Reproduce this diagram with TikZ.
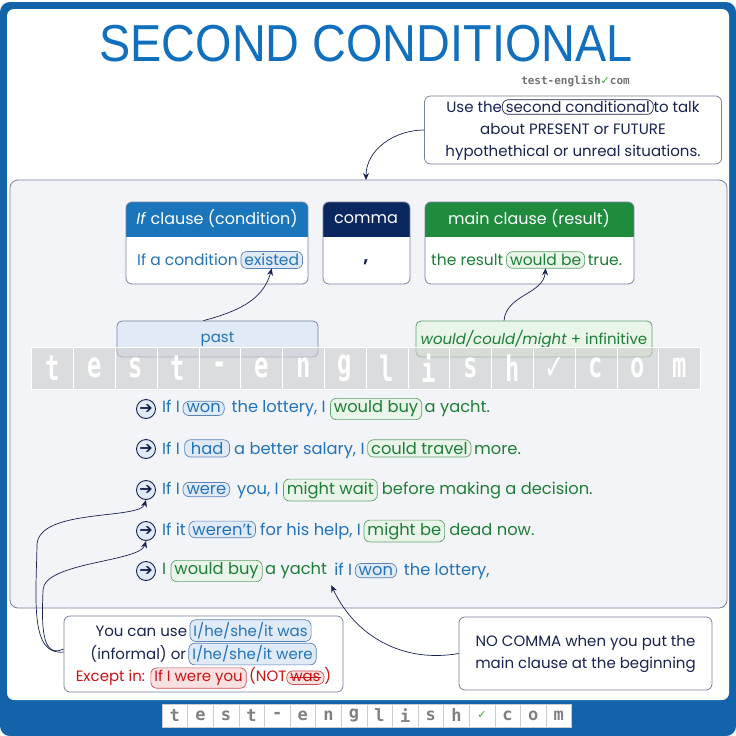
\documentclass[tikz,border=0pt]{standalone}
\usepackage{fontspec}
\setmainfont{Poppins}
\newfontfamily\titlefont{Liberation Sans}
\newfontfamily\symfont{DejaVu Sans}
\newfontfamily\logofont{DejaVu Sans Mono}
\usetikzlibrary{positioning,arrows.meta}
\definecolor{frameBlue}{RGB}{18, 99, 170}
\definecolor{titleBlue}{RGB}{16, 112, 190}
\definecolor{headBlue}{RGB}{27, 117, 187}
\definecolor{headNavy}{RGB}{10, 40, 95}
\definecolor{headGreen}{RGB}{30, 140, 60}
\definecolor{txtBlue}{RGB}{35, 115, 185}
\definecolor{txtGreen}{RGB}{30, 125, 55}
\definecolor{txtRed}{RGB}{200, 20, 20}
\definecolor{txtNavy}{RGB}{25, 35, 80}
\definecolor{edgeGrey}{RGB}{120, 130, 160}
\definecolor{pillBlueFill}{RGB}{225, 235, 248}
\definecolor{pillBlueEdge}{RGB}{90, 130, 180}
\definecolor{pillGreenFill}{RGB}{232, 245, 232}
\definecolor{pillGreenEdge}{RGB}{100, 160, 110}
\definecolor{pillRedFill}{RGB}{250, 225, 225}
\definecolor{pillRedEdge}{RGB}{200, 80, 80}
\definecolor{panelGrey}{RGB}{243, 244, 247}
\definecolor{checkGreen}{RGB}{60, 170, 60}
\tikzset{
  pill/.style={rounded corners=6, inner xsep=3.5, inner ysep=2.5, line width=0.7,
    minimum width=0, minimum height=0, outer sep=0},
  notebox/.style={draw=edgeGrey, fill=white, rounded corners=6, line width=0.8},
  notetxt/.style={align=center, text=txtNavy, font=\fontsize{15}{22}\selectfont},
  sent/.style={anchor=west, inner sep=0, font=\fontsize{16.3}{19}\selectfont},
  headtxt/.style={text=white, font=\fontsize{16}{18}\selectfont},
  bullet/.style={circle, draw=txtNavy, fill=pillBlueFill, line width=0.9,
    minimum size=19, inner sep=0, text=txtNavy, font=\symfont\fontsize{16}{16}\selectfont},
  arr/.style={-{Stealth[length=7,width=6]}, txtNavy, line width=0.7},
  wmcell/.style={minimum width=41.8, minimum height=42, inner sep=0, draw=white,
    fill=black!20, fill opacity=0.6, text opacity=1, text=white,
    font=\logofont\bfseries\fontsize{28}{28}\selectfont},
  logocell/.style={minimum width=25.6, minimum height=23, inner sep=0, draw=black!20,
    fill=white, text=black!50, font=\logofont\bfseries\fontsize{17}{17}\selectfont}
}
\newcommand{\pillB}[1]{\tikz[baseline=(pb.base)]\node[pill,draw=pillBlueEdge,fill=pillBlueFill,text=txtBlue](pb){#1};}
\newcommand{\pillG}[1]{\tikz[baseline=(pg.base)]\node[pill,draw=pillGreenEdge,fill=pillGreenFill,text=txtGreen](pg){#1};}
\newcommand{\pillR}[1]{\tikz[baseline=(pr.base)]\node[pill,draw=pillRedEdge,fill=pillRedFill,text=txtRed](pr){#1};}
\newcommand{\pillRX}[1]{\tikz[baseline=(px.base)]{\node[pill,draw=pillRedEdge,fill=pillRedFill,text=txtRed](px){#1};
  \draw[txtRed, line width=0.9] ([xshift=3]px.west) -- ([xshift=-3]px.east);}}
\newcommand{\pillN}[1]{\tikz[baseline=(pn.base)]\node[pill,inner ysep=1.5,draw=txtNavy,fill=white,text=txtNavy](pn){#1};}

\begin{document}
\begin{tikzpicture}[x=1pt, y=-1pt]
  \useasboundingbox (0,0) rectangle (736,736);
  % frame and bottom band
  \fill[frameBlue, rounded corners=10] (0,2) rectangle (736,736);
  \fill[white, rounded corners=7] (7,9) rectangle (729,700);

  % title
  \node[anchor=base, inner sep=0, text depth=0pt, font=\titlefont\fontsize{52}{52}\selectfont, text=titleBlue] (title) at (366,61)
    {\scalebox{0.9}[1]{SECOND CONDITIONAL}};
  \node[anchor=east, inner sep=0, font=\logofont\bfseries\fontsize{11}{11}\selectfont, text=black!55] (smalllogo) at (630,81)
    {test-english{\symfont\color{checkGreen}✓}com};

  % top note
  \node[notebox, minimum width=297, minimum height=68] (usenote) at (573,130) {};
  \node[notetxt] (usetxt) at (usenote) {Use the\pillN{second conditional}to talk\\
    about PRESENT or FUTURE\\ hypothethical or unreal situations.};

  % main panel
  \draw[edgeGrey, fill=panelGrey, rounded corners=8, line width=0.8] (10,180) rectangle (727,608);
  \coordinate (paneltop) at (366,180);
  \draw[arr] (usenote.west) to[out=180, in=90] (paneltop);

  % clause boxes
  \begin{scope}
    \clip[rounded corners=6] (126,202) rectangle (308,284);
    \fill[white] (126,202) rectangle (308,284);
    \fill[headBlue] (126,202) rectangle (308,237);
  \end{scope}
  \draw[edgeGrey, rounded corners=6, line width=0.8] (126,202) rectangle (308,284);
  \begin{scope}
    \clip[rounded corners=6] (323,202) rectangle (410,284);
    \fill[white] (323,202) rectangle (410,284);
    \fill[headNavy] (323,202) rectangle (410,237);
  \end{scope}
  \draw[edgeGrey, rounded corners=6, line width=0.8] (323,202) rectangle (410,284);
  \begin{scope}
    \clip[rounded corners=6] (425,202) rectangle (634,284);
    \fill[white] (425,202) rectangle (634,284);
    \fill[headGreen] (425,202) rectangle (634,237);
  \end{scope}
  \draw[edgeGrey, rounded corners=6, line width=0.8] (425,202) rectangle (634,284);

  \node[headtxt] (ifhead) at (217,219) {\textit{If} clause (condition)};
  \node[headtxt] (commahead) at (366,219) {comma};
  \node[headtxt] (mainhead) at (529,219) {main clause (result)};

  \node[sent, font=\fontsize{15.5}{18}\selectfont, text=txtBlue] (ifbody) at (137,260) {If a condition};
  \node[sent, pill, font=\fontsize{15.5}{18}\selectfont, draw=pillBlueEdge, fill=pillBlueFill, text=txtBlue, right=3 of ifbody] (existed) {existed};
  \node[font=\fontsize{18}{18}\selectfont\bfseries, text=txtNavy] (commabody) at (366,262) {,};
  \node[sent, font=\fontsize{15.5}{18}\selectfont, text=txtGreen] (mainbody) at (431,260) {the result};
  \node[sent, pill, font=\fontsize{15.5}{18}\selectfont, draw=pillGreenEdge, fill=pillGreenFill, text=txtGreen, right=3 of mainbody] (wouldbe) {would be};
  \node[sent, font=\fontsize{15.5}{18}\selectfont, text=txtGreen, right=3 of wouldbe] (truebody) {true.};

  % form boxes
  \node[notebox, fill=pillBlueFill, minimum width=201, minimum height=36, rounded corners=5,
    text=txtBlue, font=\fontsize{15}{18}\selectfont] (past) at (217.5,339) {past};
  \node[notebox, draw=pillGreenEdge, fill=pillGreenFill, minimum width=236, minimum height=36, rounded corners=5,
    text=txtGreen, font=\fontsize{15}{18}\selectfont] (modal) at (534,339) {\textit{would/could/might} + infinitive};
  \draw[arr] ([xshift=-14]past.north) to[out=15, in=-105] (existed.south);
  \draw[arr] ([xshift=-30]modal.north) to[out=85, in=-95] (wouldbe.south);

  % watermark band
  \foreach \ch [count=\i from 0] in {t,e,s,t,-,e,n,g,l,i,s,h,{\symfont ✓},c,o,m}
    \node[wmcell] (wm\i) at (31.5+20.9+41.8*\i,368) {\scalebox{0.85}[1.25]{\ch}};

  % example sentences
  \foreach \y [count=\i] in {409,449,490,531,571}
    \node[bullet] (b\i) at (146,\y) {➔};
  \node[sent] (s1) at (162,409) {\color{txtBlue}If I\,\pillB{won}\, the lottery, I \pillG{would buy}\color{txtGreen}\,a yacht.};
  \node[sent] (s2) at (162,449) {\color{txtBlue}If I \pillB{\,had\,} a better salary, I\,\pillG{could travel}\color{txtGreen}\,more.};
  \node[sent] (s3) at (162,490) {\color{txtBlue}If I\,\pillB{were}\, you, I \pillG{might wait} \color{txtGreen}before making a decision.};
  \node[sent] (s4) at (162,531) {\color{txtBlue}If it\,\pillB{weren't} for his help, I\,\pillG{might be} \color{txtGreen}dead now.};
  \node[sent] (s5a) at (162,571) {\color{txtGreen}I \pillG{would buy}\,a yacht};
  \node[sent, right=7 of s5a] (s5b) {\color{txtBlue}if I\,\pillB{won}\, the lottery,};
  \coordinate (gap) at ([xshift=4,yshift=-3]s5a.south east);

  % bottom notes
  \node[notebox, minimum width=279, minimum height=76] (youcan) at (203.5,654) {};
  \node[notetxt] (youcantxt) at (youcan) {You can use\,\pillB{I/he/she/it was}\\
    (informal) or\,\pillB{I/he/she/it were}\\
    \color{txtRed}Except in: \pillR{If I were you}\,(NOT\pillRX{was})};
  \node[notebox, minimum width=253, minimum height=73] (nocomma) at (585.5,653.5) {};
  \node[notetxt] (nocommatxt) at (nocomma) {NO COMMA when you put the\\ main clause at the beginning};

  \draw[arr] ([yshift=2]youcan.west) .. controls (30,656) and (36,600) .. (37,545)
    .. controls (38,508) and (140,520) .. (b3.south);
  \draw[arr] ([yshift=5]youcan.west) .. controls (40,660) and (42,620) .. (43,590)
    .. controls (44,562) and (140,562) .. (b4.south);
  \draw[arr] (nocomma.west) to[out=190, in=-65] (gap);

  % bottom logo
  \foreach \ch [count=\i from 0] in {t,e,s,t,-,e,n,g,l,i,s,h,{\symfont\color{checkGreen}\fontsize{11}{11}\selectfont ✓},c,o,m}
    \node[logocell] (lg\i) at (162+12.8+25.6*\i,715.5) {\ch};
\end{tikzpicture}
\end{document}
